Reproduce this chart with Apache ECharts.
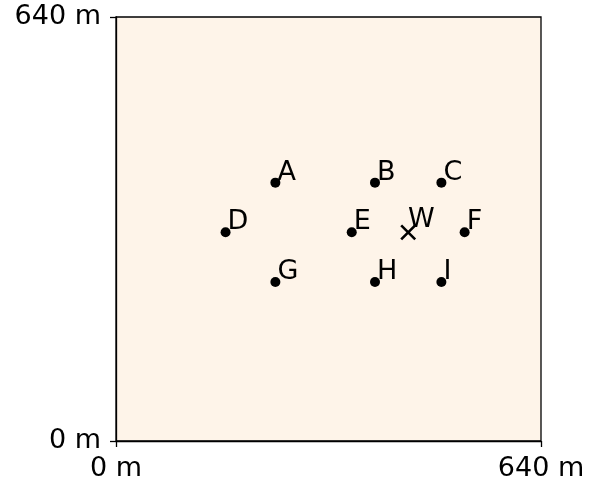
<!DOCTYPE html>
<html>
<head>
<meta charset="utf-8">
<script src="https://cdn.jsdelivr.net/npm/echarts@6/dist/echarts.min.js"></script>
<style>
  html, body { margin: 0; padding: 0; background: #fff; }
  #chart { width: 612px; height: 484px; }
</style>
</head>
<body>
<div id="chart"></div>
<script>
// station points (metres)
var names = ['A', 'B', 'C', 'D', 'E', 'F', 'G', 'H', 'I'];
var xs = [240, 390, 490, 165, 355, 525, 240, 390, 490];
var ys = [390, 390, 390, 315, 315, 315, 240, 240, 240];
// the W marker
var wName = 'W';
var wX = 440;
var wY = 315;
// axis range / ticks
var axisMin = 0;
var axisMax = 640;

var pts = names.map(function (n, i) { return [xs[i], ys[i], n]; });

var font = 'DejaVu Sans';
var fs = 27;
var chart = echarts.init(document.getElementById('chart'));
chart.setOption({
    animation: false,
    grid: {
        left: 116, right: 71, top: 17, bottom: 43,
        show: true,
        backgroundColor: '#fef4e9',
        borderColor: '#000',
        borderWidth: 1.3
    },
    xAxis: {
        type: 'value', min: axisMin, max: axisMax, interval: axisMax,
        splitLine: {show: false},
        axisLine: {show: true, onZero: false, lineStyle: {color: '#000', width: 1.3}},
        axisTick: {show: true, length: 6, lineStyle: {color: '#000', width: 1.3}},
        axisLabel: {formatter: '{value} m', color: '#000', fontFamily: font, fontSize: fs, margin: 14}
    },
    yAxis: {
        type: 'value', min: axisMin, max: axisMax, interval: axisMax,
        splitLine: {show: false},
        axisLine: {show: true, onZero: false, lineStyle: {color: '#000', width: 1.3}},
        axisTick: {show: true, length: 6, lineStyle: {color: '#000', width: 1.3}},
        axisLabel: {formatter: '{value} m', color: '#000', fontFamily: font, fontSize: fs, margin: 15}
    },
    series: [
        {
            type: 'scatter',
            data: pts,
            symbol: 'circle',
            symbolSize: 10,
            itemStyle: {color: '#000', opacity: 1},
            label: {
                show: true,
                formatter: function (p) { return p.data[2]; },
                position: [7, -5],
                align: 'left',
                verticalAlign: 'middle',
                color: '#000',
                fontFamily: font,
                fontSize: fs
            }
        },
        {
            type: 'scatter',
            data: [[wX, wY, wName]],
            symbol: 'path://M0,0L10,10M10,0L0,10',
            symbolSize: 14,
            itemStyle: {color: 'transparent', borderColor: '#000', borderWidth: 2.6, opacity: 1},
            label: {
                show: true,
                formatter: function (p) { return p.data[2]; },
                position: [8, -4],
                align: 'left',
                verticalAlign: 'middle',
                color: '#000',
                fontFamily: font,
                fontSize: fs
            }
        }
    ]
});
</script>
</body>
</html>
